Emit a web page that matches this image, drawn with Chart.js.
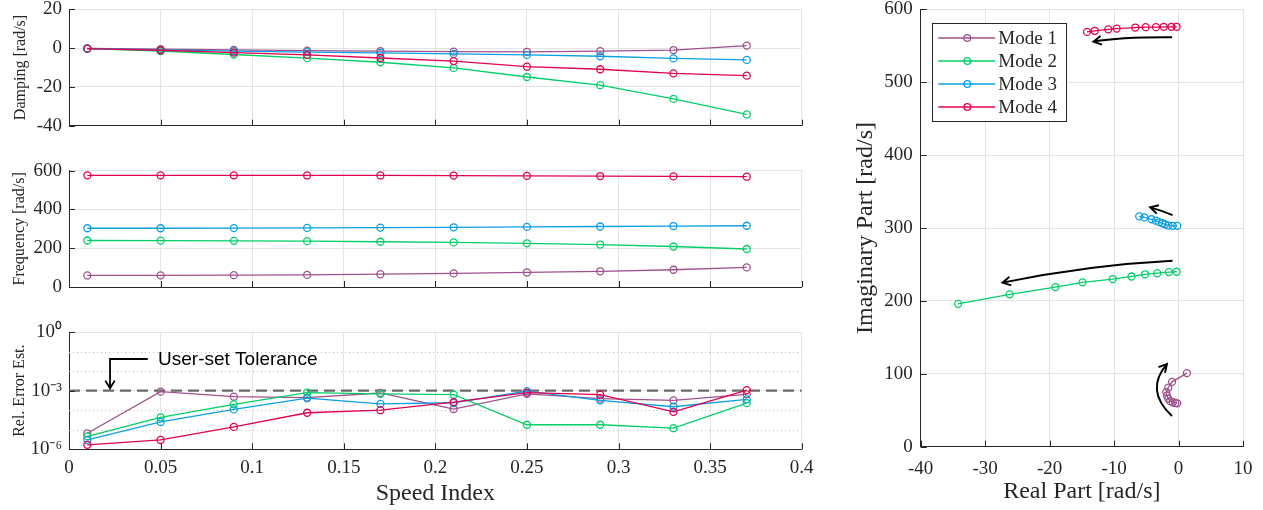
<!DOCTYPE html>
<html>
<head>
<meta charset="utf-8">
<script src="https://cdn.jsdelivr.net/npm/chart.js@4.4.0/dist/chart.umd.min.js"></script>
<style>
html,body{margin:0;padding:0;background:#ffffff;}
#wrap{position:relative;width:1263px;height:510px;overflow:hidden;background:#fff;}
canvas{position:absolute;display:block;}
</style>
</head>
<body>
<div id="wrap">
  <canvas id="cDamp" width="830" height="140" style="left:0;top:0"></canvas>
  <canvas id="cFreq" width="830" height="150" style="left:0;top:150px"></canvas>
  <canvas id="cErr" width="830" height="210" style="left:0;top:300px"></canvas>
  <canvas id="cRI" width="433" height="510" style="left:830px;top:0"></canvas>
</div>
<script>
// ---------------- DATA ----------------
const speed = [0.01, 0.05, 0.09, 0.13, 0.17, 0.21, 0.25, 0.29, 0.33, 0.37];
const modeNames = ['Mode 1', 'Mode 2', 'Mode 3', 'Mode 4'];
const modeColors = ['#A0508C', '#00CF68', '#0AA0E2', '#E3004F'];

// Damping (= real part) [rad/s]
const damping1 = [-0.2, -0.5, -0.9, -1.3, -1.6, -1.8, -1.9, -1.6, -1.0, 1.3];
const damping2 = [-0.3, -1.5, -3.3, -5.2, -7.3, -10.2, -14.9, -19.1, -26.2, -34.2];
const damping3 = [-0.2, -0.9, -1.6, -2.1, -2.5, -3.0, -3.5, -4.2, -5.3, -6.1];
const damping4 = [-0.3, -1.1, -2.3, -3.5, -5.1, -6.7, -9.6, -10.9, -13.0, -14.2];

// Frequency (= imaginary part) [rad/s]
const freq1 = [59.5, 60, 61, 62.5, 66, 70, 75, 81, 89, 101];
const freq2 = [240, 239.5, 238, 236.5, 233.5, 230, 225.5, 219, 209, 196];
const freq3 = [303, 303, 303.5, 305, 306.5, 308, 310, 312, 314.5, 316];
const freq4 = [576, 576, 576, 575.5, 575.5, 575, 573.5, 572.5, 570.5, 569];

// Relative error estimate
const relErr1 = [6.6e-6, 8.9e-4, 4.9e-4, 4.4e-4, 7.6e-4, 1.15e-4, 6.8e-4, 3.9e-4, 3.2e-4, 6.5e-4];
const relErr2 = [4.6e-6, 4.3e-5, 2.0e-4, 7.9e-4, 6.9e-4, 6.2e-4, 1.8e-5, 1.8e-5, 1.2e-5, 2.3e-4];
const relErr3 = [3.0e-6, 2.5e-5, 1.1e-4, 4.1e-4, 2.1e-4, 2.4e-4, 9.5e-4, 3.2e-4, 1.5e-4, 3.6e-4];
const relErr4 = [1.7e-6, 3.0e-6, 1.4e-5, 7.4e-5, 1.0e-4, 2.6e-4, 7.9e-4, 6.2e-4, 8.3e-5, 1.07e-3];

// Ticks / reference values
const errTickValues = [1e-6, 1e-3, 1];
const errTickLabels = ['10\u207B\u2076', '10\u207B\u00B3', '10\u2070'];
const errMinorValues = [1e-5, 1e-4, 1e-2, 1e-1];
const tolerance = 1e-3;
const toleranceLabel = 'User-set Tolerance';
const toleranceArrow = [[0.043, Math.pow(10, -1.38)], [0.0224, Math.pow(10, -1.38)], [0.0224, Math.pow(10, -2.88)]];
const toleranceTextAt = [0.0486, Math.pow(10, -1.43)];

// Trend arrows on root-locus plot: [start, control, end] in data coords
const locusArrows = [
  [[-1.0, 561.6], [-9.0, 562.0], [-13.2, 555.6]],
  [[-0.93, 317.8], [-2.6, 324.0], [-4.4, 328.4]],
  [[-0.93, 255.1], [-14.1, 249.2], [-27.3, 225.0]],
  [[-1.02, 42.1], [-5.3, 77.8], [-1.8, 113.4]]
];

// ---------------- STYLE ----------------
const GRID = '#e4e4e4';
const AXIS = '#262626';
const TEXT = '#262626';
Chart.defaults.font.family = "'Liberation Serif','Times New Roman',serif";
Chart.defaults.color = TEXT;
const tickFont = {size: 19, lineHeight: 1};

const damping = [damping1, damping2, damping3, damping4];
const freq = [freq1, freq2, freq3, freq4];
const relErr = [relErr1, relErr2, relErr3, relErr4];

function xy(xs, ys) { return xs.map((x, i) => ({x: x, y: ys[i]})); }

function noPad(s) { s.paddingTop = 0; s.paddingBottom = 0; s.paddingLeft = 0; s.paddingRight = 0; }

function makeDatasets(getData) {
  return modeNames.map((name, i) => ({
    label: name,
    data: getData(i),
    borderColor: modeColors[i],
    backgroundColor: modeColors[i],
    pointBorderColor: modeColors[i],
    pointBackgroundColor: 'rgba(255,255,255,0)',
    pointRadius: 3.5,
    pointHoverRadius: 3.5,
    pointBorderWidth: 1.3,
    borderWidth: 1.3,
    tension: 0,
    fill: false,
    order: 4 - i
  }));
}

function xSpeed(height, showLabels) {
  return {
    type: 'linear', min: 0, max: 0.4,
    ticks: {stepSize: 0.05, display: showLabels, padding: 9.5, font: tickFont, color: TEXT,
            maxRotation: 0, autoSkip: false, callback: v => String(+Number(v).toFixed(2))},
    grid: {color: GRID, lineWidth: 1, drawTicks: false},
    border: {display: true, color: AXIS, width: 1},
    title: showLabels ? {display: true, text: 'Speed Index', font: {size: 24}, color: TEXT, padding: {top: 1.6, bottom: 1.6}} : {display: false},
    afterFit: s => { s.height = height; noPad(s); }
  };
}

function yLeft(extra, titleText, titlePad) {
  return Object.assign({
    ticks: {padding: 7, font: tickFont, color: TEXT},
    grid: {color: GRID, lineWidth: 1, drawTicks: false},
    border: {display: true, color: AXIS, width: 1},
    title: {display: true, text: titleText, font: {size: 16}, color: TEXT, padding: {top: titlePad, bottom: titlePad}},
    afterFit: s => { s.width = 69; noPad(s); }
  }, extra);
}

function line(ctx, x1, y1, x2, y2) { ctx.beginPath(); ctx.moveTo(x1, y1); ctx.lineTo(x2, y2); ctx.stroke(); }

function arrowHead(ctx, tx, ty, fx, fy, len, ang) {
  const a = Math.atan2(ty - fy, tx - fx);
  ctx.beginPath();
  ctx.moveTo(tx - len * Math.cos(a - ang), ty - len * Math.sin(a - ang));
  ctx.lineTo(tx, ty);
  ctx.lineTo(tx - len * Math.cos(a + ang), ty - len * Math.sin(a + ang));
  ctx.stroke();
}

const inwardTicks = {
  id: 'inwardTicks',
  afterDatasetsDraw(chart) {
    const {ctx, chartArea: a, scales: {x, y}} = chart;
    ctx.save();
    ctx.strokeStyle = AXIS; ctx.lineWidth = 1;
    x.ticks.forEach(t => {
      const px = Math.round(x.getPixelForValue(t.value)) + 0.5;
      line(ctx, px, a.bottom, px, a.bottom - 6);
    });
    y.ticks.forEach(t => {
      const py = Math.round(y.getPixelForValue(t.value)) + 0.5;
      line(ctx, a.left, py, a.left + 6, py);
    });
    ctx.restore();
  }
};

function baseOptions(padding, scales) {
  return {
    responsive: false, animation: false, events: [],
    layout: {padding: padding, autoPadding: false},
    plugins: {legend: {display: false}, tooltip: {enabled: false}},
    scales: scales
  };
}

// ---------------- DAMPING ----------------
new Chart(document.getElementById('cDamp'), {
  type: 'line',
  data: {datasets: makeDatasets(i => xy(speed, damping[i]))},
  options: baseOptions({top: 9.3, right: 28.3, left: 0, bottom: 0}, {
    x: xSpeed(14.3, false),
    y: yLeft({min: -40, max: 20, ticks: {stepSize: 20, padding: 7, font: tickFont, color: TEXT}}, 'Damping [rad/s]', 11)
  }),
  plugins: [inwardTicks]
});

// ---------------- FREQUENCY ----------------
new Chart(document.getElementById('cFreq'), {
  type: 'line',
  data: {datasets: makeDatasets(i => xy(speed, freq[i]))},
  options: baseOptions({top: 20.7, right: 28.3, left: 0, bottom: 0}, {
    x: xSpeed(13, false),
    y: yLeft({min: 0, max: 600, ticks: {stepSize: 200, padding: 7, font: tickFont, color: TEXT}}, 'Frequency [rad/s]', 10.5)
  }),
  plugins: [inwardTicks]
});

// ---------------- RELATIVE ERROR ----------------
const errDecor = {
  id: 'errDecor',
  beforeDatasetsDraw(chart) {
    const {ctx, chartArea: a, scales: {y}} = chart;
    ctx.save();
    ctx.strokeStyle = '#bdbdbd'; ctx.lineWidth = 1; ctx.setLineDash([1, 3]);
    errMinorValues.forEach(v => {
      const py = Math.round(y.getPixelForValue(v)) + 0.5;
      line(ctx, a.left, py, a.right, py);
    });
    ctx.setLineDash([11, 6]);
    ctx.strokeStyle = '#6a6a6a'; ctx.lineWidth = 2.2;
    const ty = y.getPixelForValue(tolerance);
    line(ctx, a.left, ty, a.right, ty);
    ctx.restore();
  },
  afterDatasetsDraw(chart) {
    const {ctx, scales: {x, y}} = chart;
    ctx.save();
    ctx.strokeStyle = '#000'; ctx.lineWidth = 1.8; ctx.setLineDash([]);
    const p = toleranceArrow.map(q => [x.getPixelForValue(q[0]), y.getPixelForValue(q[1])]);
    ctx.beginPath();
    ctx.moveTo(p[0][0], p[0][1]);
    for (let i = 1; i < p.length; i++) ctx.lineTo(p[i][0], p[i][1]);
    ctx.stroke();
    const n = p.length;
    arrowHead(ctx, p[n - 1][0], p[n - 1][1], p[n - 2][0], p[n - 2][1], 9, 0.55);
    ctx.fillStyle = '#000';
    ctx.font = "19px 'Liberation Sans', Arial, sans-serif";
    ctx.textAlign = 'left'; ctx.textBaseline = 'middle';
    ctx.fillText(toleranceLabel, x.getPixelForValue(toleranceTextAt[0]), y.getPixelForValue(toleranceTextAt[1]));
    ctx.restore();
  }
};

new Chart(document.getElementById('cErr'), {
  type: 'line',
  data: {datasets: makeDatasets(i => xy(speed, relErr[i]))},
  options: baseOptions({top: 32, right: 28.3, left: 0, bottom: 0}, {
    x: xSpeed(60.7, true),
    y: yLeft({
      type: 'logarithmic', min: 1e-6, max: 1,
      afterBuildTicks: s => { s.ticks = errTickValues.map(v => ({value: v, major: true})); },
      ticks: {padding: 7, font: tickFont, color: TEXT, autoSkip: false,
              callback: v => { const k = errTickValues.findIndex(t => Math.abs(Math.log10(t) - Math.log10(v)) < 1e-6); return k >= 0 ? errTickLabels[k] : ''; }}
    }, 'Rel. Error Est.', 10.5)
  }),
  plugins: [errDecor, inwardTicks]
});

// ---------------- ROOT LOCUS ----------------
const locusDecor = {
  id: 'locusDecor',
  afterDatasetsDraw(chart) {
    const {ctx, chartArea: a, scales: {x, y}} = chart;
    ctx.save();
    ctx.strokeStyle = '#000'; ctx.lineWidth = 1.9;
    locusArrows.forEach(arr => {
      const p = arr.map(q => [x.getPixelForValue(q[0]), y.getPixelForValue(q[1])]);
      ctx.beginPath();
      ctx.moveTo(p[0][0], p[0][1]);
      ctx.quadraticCurveTo(p[1][0], p[1][1], p[2][0], p[2][1]);
      ctx.stroke();
      arrowHead(ctx, p[2][0], p[2][1], p[1][0], p[1][1], 9, 0.5);
    });
    // legend
    const bx = a.left + 11, by = a.top + 13.4, bw = 134.3, bh = 98.3;
    ctx.fillStyle = '#fff';
    ctx.fillRect(bx, by, bw, bh);
    ctx.strokeStyle = AXIS; ctx.lineWidth = 1;
    ctx.strokeRect(Math.round(bx) + 0.5, Math.round(by) + 0.5, Math.round(bw), Math.round(bh));
    ctx.font = "19px 'Liberation Serif','Times New Roman',serif";
    ctx.textAlign = 'left'; ctx.textBaseline = 'middle';
    chart.data.datasets.forEach((ds, i) => {
      const ry = by + 15.3 + 23 * i;
      ctx.strokeStyle = ds.borderColor; ctx.lineWidth = 1.3;
      line(ctx, bx + 6.6, ry, bx + 63.3, ry);
      ctx.beginPath(); ctx.arc(bx + 35.6, ry, 3.3, 0, Math.PI * 2); ctx.stroke();
      ctx.fillStyle = TEXT;
      ctx.fillText(ds.label, bx + 66.6, ry + 1);
    });
    ctx.restore();
  }
};

new Chart(document.getElementById('cRI'), {
  type: 'line',
  data: {datasets: makeDatasets(i => xy(damping[i], freq[i]))},
  options: baseOptions({top: 9.3, right: 20, left: 0, bottom: 0}, {
    x: {
      type: 'linear', min: -40, max: 10,
      ticks: {stepSize: 10, padding: 12.5, font: tickFont, color: TEXT, maxRotation: 0, autoSkip: false},
      grid: {color: GRID, lineWidth: 1, drawTicks: false},
      border: {display: true, color: AXIS, width: 1},
      title: {display: true, text: 'Real Part [rad/s]', font: {size: 24}, color: TEXT, padding: {top: 4.2, bottom: 4.2}},
      afterFit: s => { s.height = 63.3; noPad(s); }
    },
    y: {
      type: 'linear', min: 0, max: 600,
      ticks: {stepSize: 100, padding: 8, font: tickFont, color: TEXT},
      grid: {color: GRID, lineWidth: 1, drawTicks: false},
      border: {display: true, color: AXIS, width: 1},
      title: {display: true, text: 'Imaginary Part [rad/s]', font: {size: 24}, color: TEXT, padding: {top: 21.6, bottom: 21.6}},
      afterFit: s => { s.width = 90.7; noPad(s); }
    }
  }),
  plugins: [inwardTicks, locusDecor]
});
</script>
</body>
</html>
